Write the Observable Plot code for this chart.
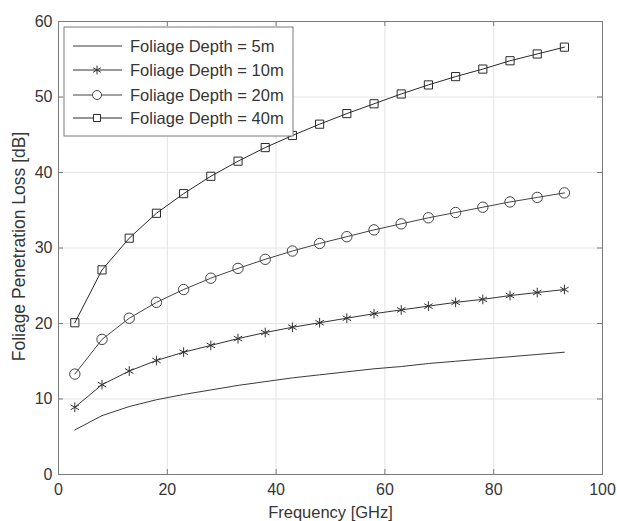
<!DOCTYPE html>
<html>
<head>
<meta charset="utf-8">
<script src="https://cdn.jsdelivr.net/npm/d3@7"></script>
<script src="https://cdn.jsdelivr.net/npm/@observablehq/plot@0.6"></script>
<style>
  html, body { margin: 0; padding: 0; background: #fff; }
  #chart { width: 617px; height: 521px; }
</style>
</head>
<body>
<div id="chart"></div>
<script>
// ---- data ----
const freq = [3, 8, 13, 18, 23, 28, 33, 38, 43, 48, 53, 58, 63, 68, 73, 78, 83, 88, 93];
const depth5m  = [5.9, 7.8, 9.0, 9.9, 10.6, 11.2, 11.8, 12.3, 12.8, 13.2, 13.6, 14.0, 14.3, 14.7, 15.0, 15.3, 15.6, 15.9, 16.2];
const depth10m = [8.9, 11.9, 13.7, 15.1, 16.2, 17.1, 18.0, 18.8, 19.5, 20.1, 20.7, 21.3, 21.8, 22.3, 22.8, 23.2, 23.7, 24.1, 24.5];
const depth20m = [13.3, 17.9, 20.7, 22.8, 24.5, 26.0, 27.3, 28.5, 29.6, 30.6, 31.5, 32.4, 33.2, 34.0, 34.7, 35.4, 36.1, 36.7, 37.3];
const depth40m = [20.1, 27.1, 31.3, 34.6, 37.2, 39.5, 41.5, 43.3, 44.9, 46.4, 47.8, 49.1, 50.4, 51.6, 52.7, 53.7, 54.8, 55.7, 56.6];
const seriesNames = ["Foliage Depth = 5m", "Foliage Depth = 10m", "Foliage Depth = 20m", "Foliage Depth = 40m"];
const xTicks = [0, 20, 40, 60, 80, 100];
const yTicks = [0, 10, 20, 30, 40, 50, 60];
const xLabel = "Frequency [GHz]";
const yLabel = "Foliage Penetration Loss [dB]";

// ---- styling ----
const seriesValues = [depth5m, depth10m, depth20m, depth40m];
const seriesSymbols = [null, "asterisk", "circle", "square"];
const seriesColors = ["#3a3a3a", "#333333", "#444444", "#2a2a2a"];
const symbolR = [0, 4.6, 5.2, 4.6];
const legendSymbolR = [0, 4.2, 4.5, 4.0];

const W = 617, H = 521;
const mL = 58, mR = 15, mT = 21, mB = 47;
const frameW = W - mL - mR, frameH = H - mT - mB;
const tickLen = 5;
const frameColor = "#7a7a7a";
const gridColor = "#e4e4e4";
const textColor = "#363636";
const fontFamily = "'Liberation Sans', Arial, Helvetica, sans-serif";

const rows = [];
seriesNames.forEach((name, i) => {
  freq.forEach((f, j) => rows.push({series: name, idx: i, f, loss: seriesValues[i][j]}));
});

const marks = [
  Plot.gridX(xTicks, {stroke: gridColor, strokeOpacity: 1}),
  Plot.gridY(yTicks, {stroke: gridColor, strokeOpacity: 1}),
  // inward tick marks on all four sides
  Plot.tickX(xTicks, {x: d => d, insetTop: frameH - tickLen, stroke: frameColor}),
  Plot.tickX(xTicks, {x: d => d, insetBottom: frameH - tickLen, stroke: frameColor}),
  Plot.tickY(yTicks, {y: d => d, insetRight: frameW - tickLen, stroke: frameColor}),
  Plot.tickY(yTicks, {y: d => d, insetLeft: frameW - tickLen, stroke: frameColor}),
  Plot.frame({stroke: frameColor, strokeWidth: 1}),
  Plot.axisX(xTicks, {tickSize: 0, tickPadding: 9, label: null, fill: textColor, fontSize: 16}),
  Plot.axisY(yTicks, {tickSize: 0, tickPadding: 6, label: null, fill: textColor, fontSize: 16}),
  Plot.text([xLabel], {frameAnchor: "bottom", dy: 38, fill: textColor, fontSize: 16.5, lineAnchor: "middle", textAnchor: "middle"}),
  Plot.text([yLabel], {frameAnchor: "left", dx: -39, dy: -1.5, rotate: -90, fill: textColor, fontSize: 17.5, lineAnchor: "middle", textAnchor: "middle"})
];

seriesNames.forEach((name, i) => {
  const data = rows.filter(r => r.idx === i);
  marks.push(Plot.line(data, {x: "f", y: "loss", stroke: seriesColors[i], strokeWidth: 1}));
  if (seriesSymbols[i]) {
    marks.push(Plot.dot(data, {x: "f", y: "loss", symbol: seriesSymbols[i], r: symbolR[i],
      stroke: seriesColors[i], fill: seriesSymbols[i] === "asterisk" ? seriesColors[i] : "none", strokeWidth: 1}));
  }
});

const svg = Plot.plot({
  width: W, height: H,
  marginLeft: mL, marginRight: mR, marginTop: mT, marginBottom: mB,
  style: {fontFamily, fontSize: "16px", background: "#fff", color: textColor},
  x: {domain: [0, 100]},
  y: {domain: [0, 60]},
  marks
});

// ---- legend inside the plot (top-left) ----
const legend = d3.select(svg).append("g")
  .attr("font-family", fontFamily).attr("font-size", 16.5).attr("text-anchor", "start");
const lx = 64, ly = 27, lw = 229, lh = 109;
legend.append("rect").attr("x", lx).attr("y", ly).attr("width", lw).attr("height", lh)
  .attr("fill", "#fff").attr("stroke", frameColor).attr("stroke-width", 1);
const rowY = [46, 70, 95, 118];
const symMap = {asterisk: d3.symbolAsterisk, circle: d3.symbolCircle, square: d3.symbolSquare};
seriesNames.forEach((name, i) => {
  const y = rowY[i];
  legend.append("line").attr("x1", 73).attr("x2", 122).attr("y1", y).attr("y2", y)
    .attr("stroke", seriesColors[i]).attr("stroke-width", 1);
  if (seriesSymbols[i]) {
    const r = legendSymbolR[i];
    legend.append("path").attr("transform", `translate(97,${y})`)
      .attr("d", d3.symbol(symMap[seriesSymbols[i]], r * r * Math.PI)())
      .attr("fill", seriesSymbols[i] === "asterisk" ? seriesColors[i] : "#fff")
      .attr("stroke", seriesColors[i]).attr("stroke-width", 1);
  }
  legend.append("text").attr("x", 130).attr("y", y).attr("dy", "0.35em")
    .attr("text-anchor", "start").attr("fill", textColor).text(name);
});

document.getElementById("chart").appendChild(svg);
</script>
</body>
</html>
